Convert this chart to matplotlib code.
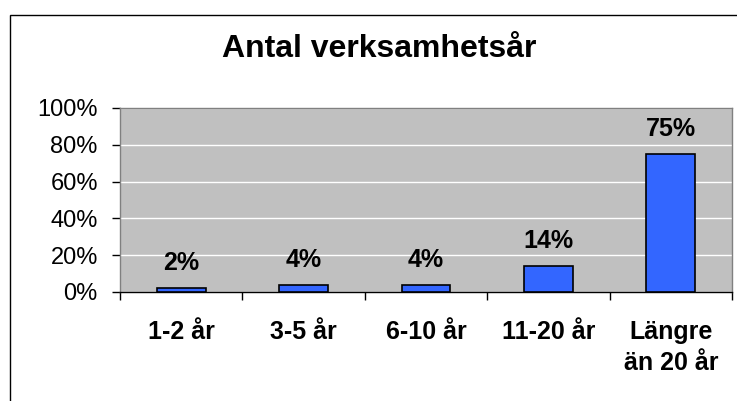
import matplotlib.pyplot as plt
from matplotlib.patches import Rectangle

categories = ["1-2 år", "3-5 år", "6-10 år", "11-20 år", "Längre\nän 20 år"]
values = [2, 4, 4, 14, 75]
yticks = [0, 20, 40, 60, 80, 100]

plt.rcParams["font.family"] = ["Liberation Sans", "DejaVu Sans"]

W, H = 737, 401
fig = plt.figure(figsize=(W / 100, H / 100), dpi=100)
fig.patch.set_facecolor("white")

# outer chart border (clipped on right/bottom like the original)
fig.add_artist(Rectangle((9.5 / W, -0.1), 2.0, (H - 14.5) / H + 0.1,
                         transform=fig.transFigure, fill=False,
                         edgecolor="black", linewidth=1.0))

ax = fig.add_axes([120 / W, 1 - 292 / H, (732 - 120) / W, (292 - 108) / H])
ax.set_facecolor("#C0C0C0")

x = list(range(len(categories)))
ax.bar(x, values, width=0.4, color="#3366FF", edgecolor="black",
       linewidth=1.2, zorder=3)

for xi, v in zip(x, values):
    ax.annotate(f"{v}%", (xi, v), xytext=(0, 13), textcoords="offset points",
                ha="center", va="baseline", fontsize=18, fontweight="bold")

ax.set_xlim(-0.5, len(categories) - 0.5)
ax.set_ylim(0, 100)

ax.set_yticks(yticks)
ax.set_yticklabels([f"{t}%" for t in yticks], fontsize=17)
ax.tick_params(axis="y", length=6, width=1, pad=10, color="black")
ax.yaxis.grid(True, color="white", linewidth=1, zorder=0)
ax.set_axisbelow(True)

ax.set_xticks(x)
ax.set_xticklabels(categories, fontsize=18, fontweight="bold", linespacing=1.4)
ax.tick_params(axis="x", length=0, pad=20)
ax.set_xticks([i - 0.5 for i in range(len(categories) + 1)], minor=True)
ax.tick_params(axis="x", which="minor", length=6, width=1, color="black")

for side in ["top", "right", "left"]:
    ax.spines[side].set_color("#808080")
    ax.spines[side].set_linewidth(1)
ax.spines["bottom"].set_color("black")
ax.spines["bottom"].set_linewidth(1)

fig.text(379 / W, 1 - 57 / H, "Antal verksamhetsår", ha="center", va="baseline",
         fontsize=23, fontweight="bold")

fig.savefig("out.png", dpi=100)
